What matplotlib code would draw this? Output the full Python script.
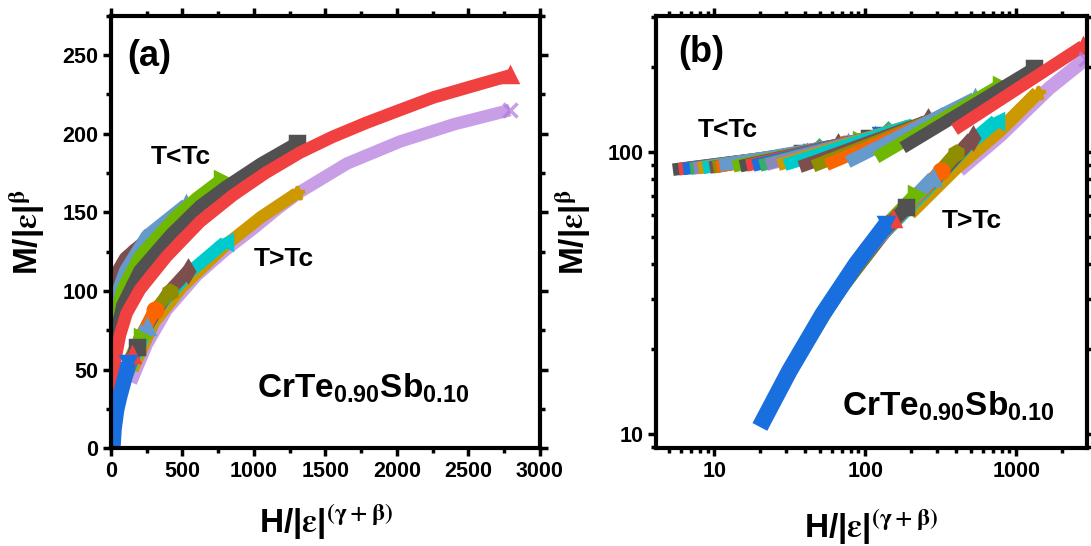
import matplotlib
matplotlib.use('Agg')
import matplotlib.pyplot as plt
from matplotlib.ticker import MultipleLocator, LogLocator, NullFormatter, FuncFormatter

# Origin "Bright" colour cycle
GRAY, RED, BLUE, GREEN = '#515151', '#F14040', '#1A6FDF', '#37AD6B'
PURPLE, GOLD, CYAN, BROWN = '#B177DE', '#CC9900', '#00CBCC', '#7D4E4E'
OLIVE, ORANGE, LBLUE, LIME = '#8E8E00', '#FB6501', '#6699CC', '#6FB802'

SYMBOL = {GRAY: 's', RED: '^', BLUE: 'v', GREEN: 'D', PURPLE: 'x', GOLD: '*',
          CYAN: '<', BROWN: 'd', OLIVE: 'h', ORANGE: 'o', LBLUE: '^', LIME: '>'}

# ---- (a) linear scaling plot, T < Tc branch ----
a_below_colors = [GRAY, RED, BLUE, GREEN, PURPLE, GOLD, CYAN, OLIVE, ORANGE,
                  BROWN, LBLUE, LIME, GRAY, RED]
a_below_h = [
    [1, 8, 20],
    [1, 10, 30],
    [1, 10, 40],
    [1, 15, 55],
    [1, 15, 70],
    [1, 20, 90],
    [1, 20, 110],
    [1, 25, 140],
    [1, 25, 170],
    [2, 30, 100, 228],
    [3, 30, 100, 250, 525],
    [3, 25, 80, 200, 450, 600, 775],
    [3, 25, 80, 200, 420, 622, 800, 1050, 1300],
    [5, 16, 63, 110, 203, 389, 622, 855, 1080, 1322, 1550, 1788, 2020, 2254, 2520, 2790],
]
a_below_m = [
    [56, 70, 78],
    [62, 80, 90],
    [68, 85, 96],
    [74, 91, 103],
    [80, 95, 108],
    [85, 100, 113],
    [88, 102, 117],
    [91, 105, 121],
    [94, 107, 125],
    [98, 110, 121, 131],
    [72, 95, 113, 135, 155],
    [50, 80, 101, 122, 147, 159, 171],
    [40, 68, 91, 113, 136, 154, 166, 181, 194],
    [22, 50, 72, 86, 101, 122, 144, 161, 175, 188, 198, 207, 215, 223, 230, 237],
]

# ---- (a) T > Tc branch ----
a_above_colors = [PURPLE, GOLD, CYAN, BROWN, OLIVE, ORANGE, LBLUE, LIME, GRAY, RED, BLUE]
a_above_h = [
    [140, 250, 389, 600, 800, 1000, 1160, 1322, 1650, 2021, 2400, 2790],
    [150, 300, 500, 800, 1050, 1298],
    [110, 300, 550, 797],
    [75, 200, 400, 541],
    [60, 150, 300, 413],
    [45, 120, 220, 308],
    [36, 90, 170, 250],
    [30, 80, 150, 215],
    [25, 60, 120, 180],
    [20, 50, 100, 145],
    [14, 22, 40, 62, 86, 121],
]
a_above_m = [
    [42, 66, 88, 110, 126, 140, 152, 163, 181, 195, 206, 215],
    [50, 80, 103, 129, 147, 162],
    [46, 86, 112, 131],
    [37, 70, 99, 113],
    [32, 60, 87, 99.5],
    [27, 53, 73, 88],
    [22, 42, 64, 77],
    [18, 39, 60, 71],
    [15, 31, 52, 64.6],
    [9, 27, 46, 59.3],
    [0, 12, 24.4, 33, 41, 54],
]

# ---- (b) log-log scaling plot, T < Tc branch ----
b_below_colors = [GRAY, RED, BLUE, GREEN, PURPLE, GOLD, CYAN, BROWN, OLIVE, ORANGE,
                  LBLUE, LIME, GRAY, RED, BLUE, GREEN, PURPLE, GOLD, CYAN, BROWN,
                  OLIVE, ORANGE, LBLUE, LIME, GRAY, RED]
b_below_h = [
    [5.3, 38], [5.8, 41], [6.2, 44], [6.9, 49], [7.3, 52], [7.8, 55],
    [8.4, 60], [9.3, 66], [9.8, 70], [10.3, 73], [10.8, 77], [13.3, 94],
    [14.8, 105], [16.3, 116], [18.0, 128], [20.0, 142], [22.1, 157],
    [26.4, 187], [29.2, 207], [36.7, 260], [45.0, 320], [55.2, 392],
    [76.5, 530], [118, 795], [177, 1322], [390, 2763],
]
b_below_m = [
    [86.5, 99], [86.8, 99.5], [87.0, 100], [87.2, 101.5], [87.4, 102], [87.6, 103],
    [87.8, 104], [88.0, 105], [88.2, 106], [88.5, 106.5], [89.5, 107.5], [89.0, 110],
    [89.0, 112], [89.5, 113.5], [89.5, 115], [89.5, 117], [90.0, 119],
    [90.0, 123], [90.0, 125], [88.5, 129], [89.0, 134], [90.0, 140],
    [92.0, 155], [95.5, 173], [103.5, 198], [120, 237],
]

# ---- (b) T > Tc branch ----
b_above_colors = [PURPLE, GOLD, CYAN, BROWN, OLIVE, ORANGE, LBLUE, LIME, GRAY, RED, BLUE]
b_above_h = [
    [420, 780, 1650, 2900],
    [197, 400, 776, 1385],
    [105, 250, 480, 738],
    [74, 160, 330, 516],
    [57, 130, 260, 401],
    [45, 100, 200, 318],
    [40, 90, 180, 282],
    [31, 70, 140, 218],
    [27, 60, 120, 187],
    [22, 50, 100, 152],
    [20, 31.5, 52.4, 87, 138],
]
b_above_m = [
    [86, 114, 168, 214],
    [60.5, 88, 119, 162],
    [45.5, 73, 106, 128.7],
    [34.5, 59, 86, 112],
    [28.5, 52, 76, 99],
    [23.5, 44, 66, 85.7],
    [21, 41, 63, 81],
    [16.4, 33.8, 55.5, 70.9],
    [14.4, 30, 50, 63.6],
    [11.7, 26, 45, 57.8],
    [10.6, 16.8, 26.7, 40.1, 55.5],
]

plt.rcParams['font.family'] = ['Liberation Sans', 'DejaVu Sans']
plt.rcParams['font.weight'] = 'bold'
plt.rcParams['mathtext.fontset'] = 'stix'
plt.rcParams['mathtext.rm'] = 'Liberation Sans:bold'
plt.rcParams['mathtext.bf'] = 'Liberation Sans:bold'
plt.rcParams['axes.linewidth'] = 3


def draw_bands(ax, colors, hs, ms, lw=9):
    # each temperature is a dense run of symbols; draw it as a thick band
    # with the symbol shape showing at the high-field end
    for c, h, m in zip(colors, hs, ms):
        alpha = 0.7 if c == PURPLE else 1.0
        width = lw + 2 if c == BLUE and len(h) > 3 else lw
        ax.plot(h, m, '-', color=c, lw=width, alpha=alpha, solid_capstyle='butt',
                solid_joinstyle='round', marker=SYMBOL[c], markersize=10.5,
                mew=2.5, mec=c, mfc=c, markevery=[len(h) - 1])


def style_axes(ax):
    ax.tick_params(which='both', direction='out', top=True, right=True,
                   labelsize=15.5, width=2.5, pad=3)
    ax.tick_params(which='major', length=6)
    ax.tick_params(which='minor', length=3.5)
    for lab in ax.get_xticklabels() + ax.get_yticklabels():
        lab.set_fontweight('bold')


fig = plt.figure(figsize=(10.91, 5.46), dpi=100)
ax1 = fig.add_axes([0.1017, 0.1788, 0.3932, 0.7925])
ax2 = fig.add_axes([0.6013, 0.1788, 0.3947, 0.7925])

# panel (a)
draw_bands(ax1, a_below_colors, a_below_h, a_below_m)
draw_bands(ax1, a_above_colors, a_above_h, a_above_m)
ax1.set_xlim(0, 3000)
ax1.set_ylim(0, 275)
ax1.xaxis.set_major_locator(MultipleLocator(500))
ax1.xaxis.set_minor_locator(MultipleLocator(250))
ax1.yaxis.set_major_locator(MultipleLocator(50))
ax1.yaxis.set_minor_locator(MultipleLocator(25))
style_axes(ax1)

# panel (b)
draw_bands(ax2, b_below_colors, b_below_h, b_below_m)
draw_bands(ax2, b_above_colors, b_above_h, b_above_m, lw=10)
ax2.set_xscale('log')
ax2.set_yscale('log')
ax2.set_xlim(4.1, 2930)
ax2.set_ylim(8.9, 304)
for axis in (ax2.xaxis, ax2.yaxis):
    axis.set_major_locator(LogLocator(base=10))
    axis.set_minor_locator(LogLocator(base=10, subs=range(2, 10)))
    axis.set_major_formatter(FuncFormatter(lambda v, p: '%d' % v))
    axis.set_minor_formatter(NullFormatter())
style_axes(ax2)

xlab = r'H/|$\mathrm{\varepsilon}$|$^{(\mathrm{\gamma}+\mathrm{\beta})}$'
ylab = r'M/|$\mathrm{\varepsilon}$|$^{\mathrm{\beta}}$'
for ax in (ax1, ax2):
    ax.set_xlabel(xlab, fontsize=24, fontweight='bold', math_fontfamily='stix')
    ax.set_ylabel(ylab, fontsize=24, fontweight='bold', math_fontfamily='stix')
ax1.xaxis.set_label_coords(0.5, -0.125)
ax1.yaxis.set_label_coords(-0.15, 0.5)
ax2.xaxis.set_label_coords(0.5, -0.135)
ax2.yaxis.set_label_coords(-0.147, 0.5)

comp = r'CrTe$_{0.90}$Sb$_{0.10}$'
ax1.text(0.0886, 0.9046, '(a)', transform=ax1.transAxes, fontsize=26,
         fontweight='bold', ha='center', va='center')
ax1.text(0.162, 0.673, 'T<Tc', transform=ax1.transAxes, fontsize=19,
         fontweight='bold', ha='center', va='center')
ax1.text(0.403, 0.438, 'T>Tc', transform=ax1.transAxes, fontsize=19,
         fontweight='bold', ha='center', va='center')
ax1.text(0.340, 0.119, comp, transform=ax1.transAxes, fontsize=24,
         fontweight='bold', ha='left', va='baseline', math_fontfamily='custom')

ax2.text(0.104, 0.916, '(b)', transform=ax2.transAxes, fontsize=26,
         fontweight='bold', ha='center', va='center')
ax2.text(0.167, 0.736, 'T<Tc', transform=ax2.transAxes, fontsize=19,
         fontweight='bold', ha='center', va='center')
ax2.text(0.734, 0.525, 'T>Tc', transform=ax2.transAxes, fontsize=19,
         fontweight='bold', ha='center', va='center')
ax2.text(0.432, 0.077, comp, transform=ax2.transAxes, fontsize=24,
         fontweight='bold', ha='left', va='baseline', math_fontfamily='custom')

fig.savefig('out.png', dpi=100)
